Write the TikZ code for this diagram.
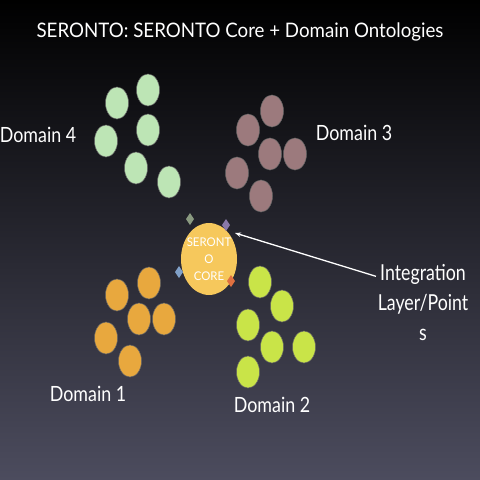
\documentclass[tikz,border=0pt]{standalone}
\usepackage{fontspec}
\setmainfont{Lato}
\usepackage{tikz}
\usetikzlibrary{shapes.geometric,arrows.meta}

\definecolor{bgbot}{RGB}{76,76,94}
\definecolor{bgmid}{RGB}{30,31,44}
\definecolor{domfour}{RGB}{189,229,181}
\definecolor{domthree}{RGB}{156,122,125}
\definecolor{domone}{RGB}{232,168,62}
\definecolor{domtwo}{RGB}{201,228,72}
\definecolor{corecol}{RGB}{246,200,92}
\definecolor{ptgreen}{RGB}{138,154,128}
\definecolor{ptviolet}{RGB}{136,120,168}
\definecolor{ptblue}{RGB}{128,160,200}
\definecolor{ptorange}{RGB}{224,112,64}

\tikzset{
  lbl/.style={text=white, font=\fontsize{21}{24}\selectfont, xscale=0.85},
  dot/.style={draw=black!60, line width=0.5pt},
}

\begin{document}
\begin{tikzpicture}[x=1pt, y=-1pt]
    \useasboundingbox (0,0) rectangle (480,480);
    \shade[top color=black, middle color=bgmid, bottom color=bgbot] (0,0) rectangle (480,480);
    \node[lbl, font=\fontsize{20}{22}\selectfont, xscale=1.1] (title) at (240,32) {SERONTO: SERONTO Core + Domain Ontologies};
    % domain 4
    \foreach \x/\y in {148/90, 117/103, 148/130, 106/141, 136/168, 169/182}
        \fill[dot, fill=domfour] (\x,\y) ellipse [x radius=11.5pt, y radius=16pt];
    % domain 3
    \foreach \x/\y in {272/111, 248/130, 270/154, 295/154, 237/173, 261/196}
        \fill[dot, fill=domthree] (\x,\y) ellipse [x radius=11.5pt, y radius=16pt];
    % domain 1
    \foreach \x/\y in {149/283, 117/295, 139/319, 164/319, 106/338, 130/361}
        \fill[dot, fill=domone] (\x,\y) ellipse [x radius=11.5pt, y radius=16pt];
    % domain 2
    \foreach \x/\y in {260/282, 282/306, 248/325, 272/347, 304/347, 248/372}
        \fill[dot, fill=domtwo] (\x,\y) ellipse [x radius=11.5pt, y radius=16pt];
    \node[lbl] (dfour) at (38,135) {Domain 4};
    \node[lbl] (dthree) at (354,133) {Domain 3};
    \node[lbl] (done) at (88,394) {Domain 1};
    \node[lbl] (dtwo) at (272,405) {Domain 2};
    % core
    \node[ellipse, fill=corecol, minimum width=56pt, minimum height=72pt, inner sep=0pt] (core) at (209,259) {};
    \node[text=white, align=center, font=\fontsize{12}{17}\selectfont, xscale=0.95] (corelbl) at (core.center) {SERONT\\O\\CORE};
    \fill[ptgreen] (190,219) +(0,-6) -- +(4,0) -- +(0,6) -- +(-4,0) -- cycle;
    \fill[ptviolet] (226,225) +(0,-6) -- +(4,0) -- +(0,6) -- +(-4,0) -- cycle;
    \fill[ptblue] (179,272) +(0,-6) -- +(4,0) -- +(0,6) -- +(-4,0) -- cycle;
    \fill[ptorange] (231,281) +(0,-6) -- +(4,0) -- +(0,6) -- +(-4,0) -- cycle;
    % integration points
    \node[lbl, align=center, font=\fontsize{22}{30}\selectfont, xscale=0.95] (intg) at (423,303) {Integration\\Layer/Point\\s};
    \coordinate (pt) at (235,233);
    \draw[white, line width=1.3pt, -{Stealth[length=6pt]}] (intg.north west) ++(1,15) -- (pt);
\end{tikzpicture}
\end{document}
